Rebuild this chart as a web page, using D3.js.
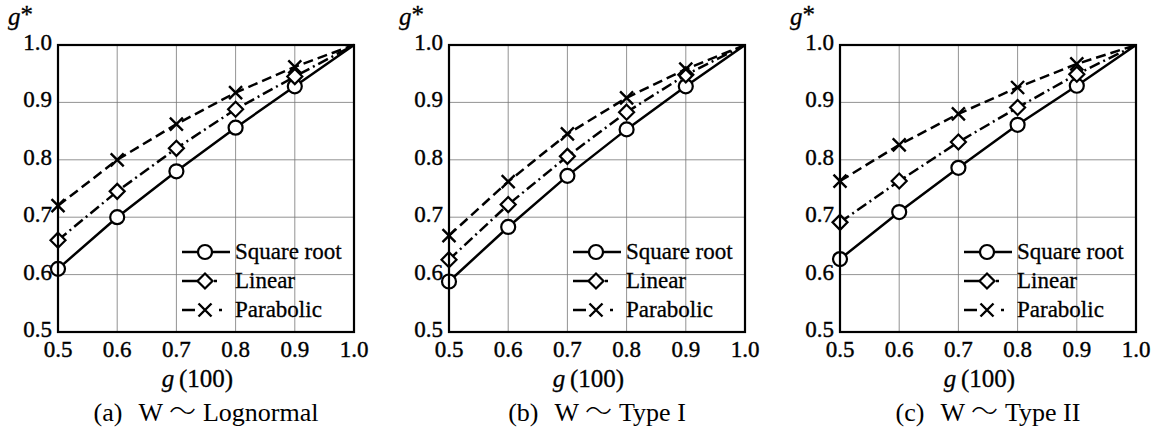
<!DOCTYPE html>
<html>
<head>
<meta charset="utf-8">
<script src="https://cdn.jsdelivr.net/npm/d3@7"></script>
<style>
  body { margin: 0; background: #fff; }
</style>
</head>
<body>
<svg></svg>
<script>
// g(100) values on the x axis
const gValues = [0.5, 0.6, 0.7, 0.8, 0.9, 1.0]
const ticks = [0.5, 0.6, 0.7, 0.8, 0.9, 1.0]
const seriesNames = ["Square root", "Linear", "Parabolic"]
const panelLabels = ["(a)", "(b)", "(c)"]
const distNames = ["Lognormal", "Type I", "Type II"]

// (a) lognormal
const sqrtA = [0.610, 0.700, 0.780, 0.856, 0.928, 1.0]
const linA  = [0.660, 0.745, 0.820, 0.888, 0.945, 1.0]
const parA  = [0.720, 0.800, 0.862, 0.917, 0.962, 1.0]
// (b) type I
const sqrtB = [0.588, 0.683, 0.772, 0.853, 0.928, 1.0]
const linB  = [0.626, 0.722, 0.806, 0.883, 0.948, 1.0]
const parB  = [0.668, 0.762, 0.845, 0.908, 0.958, 1.0]
// (c) type II
const sqrtC = [0.627, 0.709, 0.786, 0.861, 0.929, 1.0]
const linC  = [0.691, 0.763, 0.831, 0.891, 0.949, 1.0]
const parC  = [0.763, 0.826, 0.880, 0.926, 0.967, 1.0]

const panelData = [[sqrtA, linA, parA], [sqrtB, linB, parB], [sqrtC, linC, parC]]

const
    svgWidth = 1162,
    svgHeight = 432,
    plotW = 296,
    plotH = 287,
    TOP = 45,
    lefts = [58, 449, 840]

const FONT = "'Liberation Serif', 'Times New Roman', serif"
const dashes = [null, "11,4,2,4", "10,5"]
// legend samples: dash - marker - dot
const legendDashes = [null, "21,11,3,20", "13,24,3,20"]

let svg = d3.select('svg')
    .attr('width', svgWidth)
    .attr('height', svgHeight)
    .style('font-family', FONT)

const x = d3.scaleLinear().domain([0.5, 1.0]).range([0, plotW])
const y = d3.scaleLinear().domain([0.5, 1.0]).range([plotH, 0])

const line = d3.line().x((d, i) => x(gValues[i])).y(d => y(d))

function marker(g, kind, cx, cy) {
    if (kind == 0) {
        g.append("circle").attr("cx", cx).attr("cy", cy).attr("r", 7)
            .attr("fill", "#fff").attr("stroke", "#000").attr("stroke-width", 2.2)
    } else if (kind == 1) {
        const s = 7.5
        g.append("path")
            .attr("d", `M${cx},${cy - s}L${cx + s},${cy}L${cx},${cy + s}L${cx - s},${cy}Z`)
            .attr("fill", "#fff").attr("stroke", "#000").attr("stroke-width", 2.2)
    } else {
        const s = 6.5
        g.append("path")
            .attr("d", `M${cx - s},${cy - s}L${cx + s},${cy + s}M${cx - s},${cy + s}L${cx + s},${cy - s}`)
            .attr("fill", "none").attr("stroke", "#000").attr("stroke-width", 2.4)
    }
}

panelData.forEach((series, p) => {
    let g = svg.append("g").attr("transform", `translate(${lefts[p]},${TOP})`)

    // grid
    g.append("g").selectAll("line").data(ticks.slice(1, -1)).join("line")
        .attr("x1", d => x(d)).attr("x2", d => x(d))
        .attr("y1", 0).attr("y2", plotH)
        .attr("stroke", "#777").attr("stroke-width", 0.8)
    g.append("g").selectAll("line").data(ticks.slice(1, -1)).join("line")
        .attr("x1", 0).attr("x2", plotW)
        .attr("y1", d => y(d)).attr("y2", d => y(d))
        .attr("stroke", "#777").attr("stroke-width", 0.8)

    // tick labels
    g.append("g").selectAll("text").data(ticks).join("text")
        .attr("x", d => x(d)).attr("y", plotH + 25)
        .attr("text-anchor", "middle").attr("font-size", 23)
        .attr("stroke", "#000").attr("stroke-width", 0.4)
        .text(d => d.toFixed(1))
    g.append("g").selectAll("text").data(ticks).join("text")
        .attr("x", -6).attr("y", d => y(d) + 5)
        .attr("text-anchor", "end").attr("font-size", 23)
        .attr("stroke", "#000").attr("stroke-width", 0.4)
        .text(d => d.toFixed(1))

    // series
    series.forEach((vals, s) => {
        g.append("path").datum(vals)
            .attr("d", line)
            .attr("fill", "none").attr("stroke", "#000").attr("stroke-width", 2.5)
            .attr("stroke-dasharray", dashes[s])
        vals.slice(0, 5).forEach((v, i) => marker(g, s, x(gValues[i]), y(v)))
    })

    // frame
    g.append("rect").attr("width", plotW).attr("height", plotH)
        .attr("fill", "none").attr("stroke", "#000").attr("stroke-width", 2.2)

    // legend
    seriesNames.forEach((name, s) => {
        const ly = 207 + s * 29
        g.append("line").attr("x1", 124).attr("x2", 172).attr("y1", ly).attr("y2", ly)
            .attr("stroke", "#000").attr("stroke-width", 2.5)
            .attr("stroke-dasharray", legendDashes[s])
        marker(g, s, 147, ly)
        g.append("text").attr("x", 177).attr("y", ly + 7).attr("font-size", 23)
            .attr("stroke", "#000").attr("stroke-width", 0.3)
            .text(name)
    })

    // axis titles
    let xt = g.append("text").attr("x", plotW / 2).attr("y", plotH + 55)
        .attr("text-anchor", "middle").attr("font-size", 25)
        .attr("stroke", "#000").attr("stroke-width", 0.3)
        .text("(100)")
    xt.append("tspan").attr("font-style", "italic").attr("x", plotW / 2 - 38).text("g")

    let yt = g.append("text").attr("x", -50).attr("y", -20).attr("font-size", 25)
        .attr("stroke", "#000").attr("stroke-width", 0.3)
    yt.append("tspan").attr("font-style", "italic").text("g")
    yt.append("tspan").attr("dy", -2).text("*")

    let cap = g.append("text").attr("x", plotW / 2).attr("y", plotH + 89)
        .attr("text-anchor", "middle").attr("font-size", 26)
    cap.append("tspan").text(panelLabels[p])
    cap.append("tspan").attr("dx", 16).text("W")
    cap.append("tspan").attr("dx", 6).attr("font-size", 27)
        .style("font-family", "'Noto Sans CJK JP', 'DejaVu Sans'").style("font-weight", 300).text("～")
    cap.append("tspan").attr("dx", 7).text(distNames[p])
})
</script>
</body>
</html>
